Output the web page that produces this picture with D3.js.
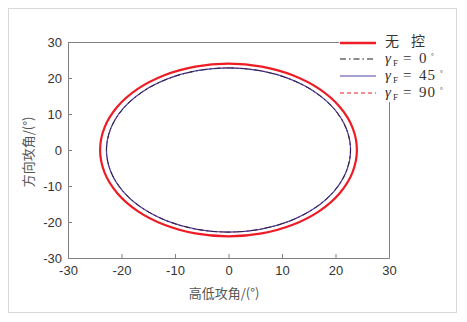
<!DOCTYPE html>
<html>
<head>
<meta charset="utf-8">
<script src="https://cdn.jsdelivr.net/npm/d3@7"></script>
<style>
  body { margin: 0; background: #fff; }
  svg { display: block; }
</style>
</head>
<body>
<div id="chart"></div>
<script>
// trajectory points (高低攻角, 方向攻角)
var wukong = [[24,0],[23.18,6.21],[20.78,12],[16.97,16.97],[12,20.78],[6.21,23.18],[0,24],[-6.21,23.18],[-12,20.78],[-16.97,16.97],[-20.78,12],[-23.18,6.21],[-24,0],[-23.18,-6.21],[-20.78,-12],[-16.97,-16.97],[-12,-20.78],[-6.21,-23.18],[0,-24],[6.21,-23.18],[12,-20.78],[16.97,-16.97],[20.78,-12],[23.18,-6.21]];
var gamma0 = [[22.8,0],[22.02,5.9],[19.75,11.4],[16.12,16.12],[11.4,19.75],[5.9,22.02],[0,22.8],[-5.9,22.02],[-11.4,19.75],[-16.12,16.12],[-19.75,11.4],[-22.02,5.9],[-22.8,0],[-22.02,-5.9],[-19.75,-11.4],[-16.12,-16.12],[-11.4,-19.75],[-5.9,-22.02],[0,-22.8],[5.9,-22.02],[11.4,-19.75],[16.12,-16.12],[19.75,-11.4],[22.02,-5.9]];
var gamma45 = [[22.82,0],[22.04,5.91],[19.76,11.41],[16.14,16.14],[11.41,19.76],[5.91,22.04],[0,22.82],[-5.91,22.04],[-11.41,19.76],[-16.14,16.14],[-19.76,11.41],[-22.04,5.91],[-22.82,0],[-22.04,-5.91],[-19.76,-11.41],[-16.14,-16.14],[-11.41,-19.76],[-5.91,-22.04],[0,-22.82],[5.91,-22.04],[11.41,-19.76],[16.14,-16.14],[19.76,-11.41],[22.04,-5.91]];
var gamma90 = [[22.8,0],[22.02,5.9],[19.75,11.4],[16.12,16.12],[11.4,19.75],[5.9,22.02],[0,22.8],[-5.9,22.02],[-11.4,19.75],[-16.12,16.12],[-19.75,11.4],[-22.02,5.9],[-22.8,0],[-22.02,-5.9],[-19.75,-11.4],[-16.12,-16.12],[-11.4,-19.75],[-5.9,-22.02],[0,-22.8],[5.9,-22.02],[11.4,-19.75],[16.12,-16.12],[19.75,-11.4],[22.02,-5.9]];
var xTicks = [-30, -20, -10, 0, 10, 20, 30];
var yTicks = [-30, -20, -10, 0, 10, 20, 30];
var legendNames = ["无", "控", "0", "45", "90"];

var W = 467, H = 322;
var margin = { top: 42, right: 78, bottom: 64, left: 68 },
    width = W - margin.left - margin.right,
    height = H - margin.top - margin.bottom;

var svg = d3.select('#chart')
  .append('svg')
    .attr('width', W)
    .attr('height', H);

// light frame round the whole figure
svg.append('rect')
  .attr('x', 8.5).attr('y', 8.5)
  .attr('width', 448).attr('height', 304)
  .attr('fill', 'none')
  .attr('stroke', '#d8d8d8');

var g = svg.append('g')
  .attr('transform', 'translate(' + margin.left + ',' + margin.top + ')');

var x = d3.scaleLinear().domain([-30, 30]).range([0, width]);
var y = d3.scaleLinear().domain([-30, 30]).range([height, 0]);

var axisColor = '#808080';

// bottom and left axes, ticks point inward, plain hyphen minus
var xAxis = g.append('g')
  .attr('transform', 'translate(0,' + height + ')')
  .call(d3.axisBottom(x).tickValues(xTicks).tickSize(-4).tickPadding(8).tickFormat(d => String(d)));
var yAxis = g.append('g')
  .call(d3.axisLeft(y).tickValues(yTicks).tickSize(-4).tickPadding(6).tickFormat(d => String(d)));

[xAxis, yAxis].forEach(a => {
  a.select('.domain').attr('stroke', axisColor);
  a.selectAll('.tick line').attr('stroke', axisColor);
  a.selectAll('.tick text')
    .attr('fill', '#333')
    .style('font-family', '"Liberation Sans", Arial, sans-serif')
    .style('font-size', '13px');
});

// box top and right
g.append('line').attr('x1', 0).attr('x2', width).attr('y1', 0.5).attr('y2', 0.5)
  .attr('stroke', axisColor);
g.append('line').attr('x1', width + 0.5).attr('x2', width + 0.5).attr('y1', 0).attr('y2', height)
  .attr('stroke', axisColor);

var line = d3.line()
  .x(d => x(d[0]))
  .y(d => y(d[1]))
  .curve(d3.curveCatmullRomClosed);

var series = [
  { data: wukong,  color: '#ee1c25', width: 2.2, dash: null,         order: 0 },
  { data: gamma0,  color: '#1a1a1a', width: 1,   dash: '6,3,1.5,3',  order: 3 },
  { data: gamma45, color: '#4e45a8', width: 1.2, dash: null,         order: 2 },
  { data: gamma90, color: '#ee1c25', width: 1,   dash: '4,3',        order: 1 }
];

g.selectAll('path.curve')
  .data(series.slice().sort((a, b) => a.order - b.order))
  .enter().append('path')
    .attr('class', 'curve')
    .attr('d', d => line(d.data))
    .attr('fill', 'none')
    .attr('stroke', d => d.color)
    .attr('stroke-width', d => d.width)
    .attr('stroke-dasharray', d => d.dash)
    .attr('stroke-opacity', d => d.order === 3 ? 0.75 : 1);

// legend, white background over the box corner
var leg = svg.append('g');
leg.append('rect')
  .attr('x', 339).attr('y', 32)
  .attr('width', 112).attr('height', 70)
  .attr('fill', '#fff');

var rowY = [43, 59, 76, 93];
var items = leg.selectAll('g.item')
  .data(series)
  .enter().append('g')
    .attr('class', 'item')
    .attr('transform', (d, i) => 'translate(0,' + rowY[i] + ')');

items.append('line')
  .attr('x1', 340).attr('x2', 376)
  .attr('stroke', d => d.color)
  .attr('stroke-width', (d, i) => i === 0 ? 2.6 : 1.1)
  .attr('stroke-dasharray', d => d.dash);

var serif = '"Liberation Serif", "Times New Roman", serif';
var cjk = '"Noto Sans CJK SC", sans-serif';
items.each(function(d, i) {
  var row = d3.select(this);
  var style = t => t.attr('fill', '#333').style('font-family', serif).style('font-size', '15px');
  if (i === 0) {
    row.append('text').attr('x', 385).attr('y', 3).call(style)
      .style('font-family', cjk).style('font-size', '14px').text(legendNames[0]);
    row.append('text').attr('x', 411).attr('y', 3).call(style)
      .style('font-family', cjk).style('font-size', '14px').text(legendNames[1]);
  } else {
    row.append('text').attr('x', 385).attr('y', 4).call(style)
      .style('font-style', 'italic').text('γ');
    row.append('text').attr('x', 393).attr('y', 7).call(style)
      .style('font-size', '9px').text('F');
    row.append('text').attr('x', 403).attr('y', 4).call(style).text('=');
    row.append('text').attr('x', 419).attr('y', 4).call(style)
      .style('letter-spacing', '1px').text(legendNames[i + 1]);
    row.append('text').attr('x', 422 + legendNames[i + 1].length * 9).attr('y', -1).call(style)
      .style('font-size', '7px').text('°');
  }
});

// axis titles
svg.append('text')
  .attr('x', 224).attr('y', 298)
  .attr('text-anchor', 'middle')
  .attr('fill', '#555')
  .style('font-family', cjk)
  .style('font-size', '13px')
  .text('高低攻角/(°)');
svg.append('text')
  .attr('transform', 'translate(33,152) rotate(-90)')
  .attr('text-anchor', 'middle')
  .attr('fill', '#555')
  .style('font-family', cjk)
  .style('font-size', '13px')
  .text('方向攻角/(°)');
</script>
</body>
</html>
